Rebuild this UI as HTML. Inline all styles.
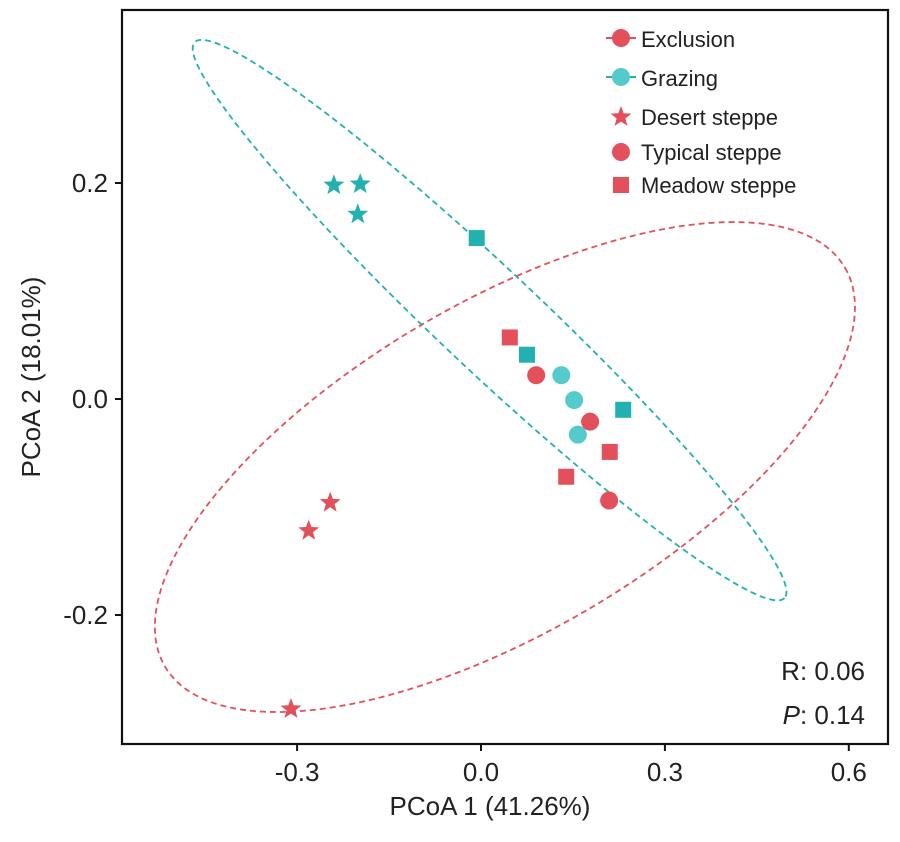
<!DOCTYPE html>
<html><head><meta charset="utf-8"><style>body{margin:0;background:#fff}svg text{font-family:"Liberation Sans",sans-serif;fill:#222}</style></head>
<body>
<svg id="chart" width="900" height="837" xmlns="http://www.w3.org/2000/svg">
<rect x="122" y="10" width="766" height="734" fill="none" stroke="#111" stroke-width="2.2"/>
<g id="ells"></g><g id="pts"></g><g id="axes"></g>
<text x="865" y="680" font-size="26" text-anchor="end">R:  0.06</text>
<text x="865" y="724" font-size="26" text-anchor="end"><tspan font-style="italic">P</tspan>:  0.14</text>
<text x="490" y="815" font-size="26" text-anchor="middle">PCoA 1 (41.26%)</text>
<text transform="translate(40,377) rotate(-90)" font-size="26" text-anchor="middle">PCoA 2 (18.01%)</text>
<g>
<line x1="606" y1="38" x2="636" y2="38" stroke="#E3505C" stroke-width="2"/><circle cx="621" cy="38" r="9" fill="#E3505C"/>
<text x="641" y="47" font-size="22">Exclusion</text>
<line x1="606" y1="77" x2="636" y2="77" stroke="#22B0B0" stroke-width="2"/><circle cx="621" cy="77" r="9" fill="#55CACA"/>
<text x="641" y="86" font-size="22">Grazing</text>
<polygon id="lstar" fill="#E3505C"/>
<text x="641" y="125" font-size="22">Desert steppe</text>
<circle cx="621" cy="152" r="9" fill="#E3505C"/>
<text x="641" y="160" font-size="22">Typical steppe</text>
<rect x="613" y="177" width="16" height="16" fill="#E3505C"/>
<text x="641" y="193" font-size="22">Meadow steppe</text>
</g>
</svg>
<script>
const xTicks=[-0.3,0.0,0.3,0.6];
const yTicks=[-0.2,0.0,0.2];
const groups=["Exclusion","Grazing"];
const grazStarX=[-0.240,-0.197,-0.201], grazStarY=[0.198,0.199,0.171];
const grazSqX=[-0.007,0.075,0.232], grazSqY=[0.149,0.041,-0.010];
const grazCirX=[0.131,0.152,0.158], grazCirY=[0.022,-0.001,-0.033];
const exclStarX=[-0.246,-0.281,-0.310], exclStarY=[-0.096,-0.122,-0.287];
const exclSqX=[0.047,0.139,0.210], exclSqY=[0.057,-0.072,-0.049];
const exclCirX=[0.090,0.178,0.209], exclCirY=[0.022,-0.021,-0.094];
// ellipse: center x, center y (data), semi axes in x-data units, angle deg
const grazEll=[0.014,0.073,0.661,0.082,43.3];
const exclEll=[0.039,-0.063,0.643,0.269,-30.4];
const X=v=>481+v*613, Y=v=>399-v*1080;
const NS="http://www.w3.org/2000/svg";
const RED="#E3505C", CY="#22B0B0", CYL="#55CACA";
function mk(t,a,p){const e=document.createElementNS(NS,t);for(const k in a)e.setAttribute(k,a[k]);p.appendChild(e);return e;}
function starPts(cx,cy,r){let s=[];for(let i=0;i<10;i++){const rr=i%2?r*0.42:r,a=-Math.PI/2+i*Math.PI/5;s.push((cx+rr*Math.cos(a)).toFixed(1)+","+(cy+rr*Math.sin(a)).toFixed(1));}return s.join(" ");}
document.getElementById('lstar').setAttribute('points',starPts(621,117,11));
const axes=document.getElementById('axes');
xTicks.forEach(t=>{const x=X(t);
 const l=mk('line',{x1:x,y1:744,x2:x,y2:751,stroke:'#111','stroke-width':2},axes);
 
 
 const tx=mk('text',{x:x,y:781,'font-size':26,'text-anchor':'middle'},axes);tx.textContent=t.toFixed(1);
 
 });
yTicks.forEach(t=>{const y=Y(t);
 const l=mk('line',{x1:115,y1:y,x2:122,y2:y,stroke:'#111','stroke-width':2},axes);
 
 
 const tx=mk('text',{x:108,y:y+9,'font-size':26,'text-anchor':'end'},axes);tx.textContent=t.toFixed(1);
 
 });
const ells=document.getElementById('ells');
[[grazEll,CY,'grazing-ellipse'],[exclEll,RED,'exclusion-ellipse']].forEach(([e,c,n])=>{
 const el=mk('ellipse',{cx:X(e[0]),cy:Y(e[1]),rx:e[2]*613,ry:e[3]*613,fill:'none',stroke:c,'stroke-width':1.8,'stroke-dasharray':'6,4',transform:`rotate(${e[4]} ${X(e[0])} ${Y(e[1])})`},ells);
 
 });
const pts=document.getElementById('pts');
function draw(xs,ys,shape,col,name){xs.forEach((v,i)=>{const x=X(v),y=Y(ys[i]);let e;
 if(shape==='star')e=mk('polygon',{points:starPts(x,y,11),fill:col},pts);
 else if(shape==='sq')e=mk('rect',{x:x-8,y:y-8,width:16,height:16,fill:col},pts);
 else e=mk('circle',{cx:x,cy:y,r:9,fill:col},pts);
 
 });}
draw(grazStarX,grazStarY,'star',CY,'grazing-desert-point');
draw(grazSqX,grazSqY,'sq',CY,'grazing-meadow-point');
draw(grazCirX,grazCirY,'cir',CYL,'grazing-typical-point');
draw(exclStarX,exclStarY,'star',RED,'exclusion-desert-point');
draw(exclSqX,exclSqY,'sq',RED,'exclusion-meadow-point');
draw(exclCirX,exclCirY,'cir',RED,'exclusion-typical-point');
</script>
</body></html>
